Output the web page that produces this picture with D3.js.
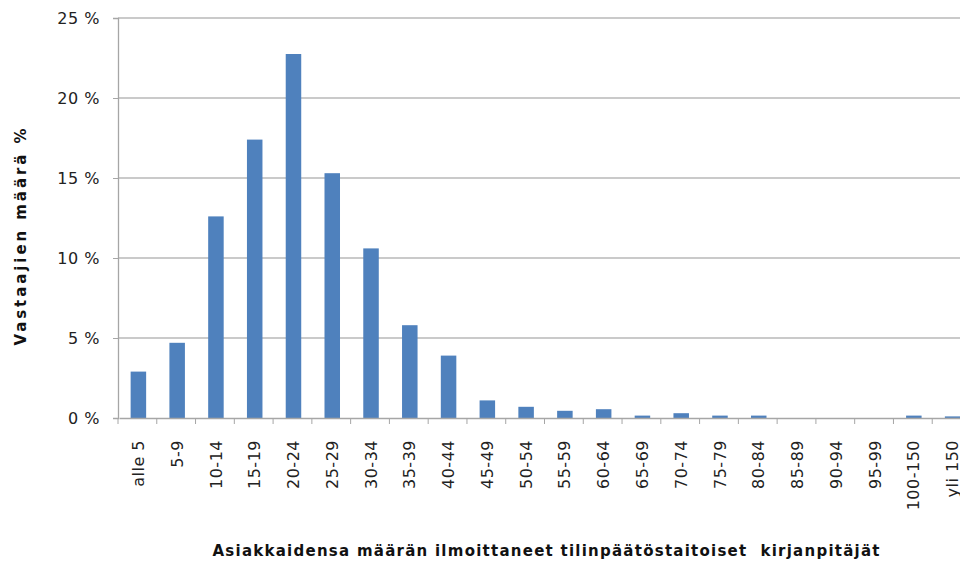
<!DOCTYPE html>
<html>
<head>
<meta charset="utf-8">
<script src="https://cdn.jsdelivr.net/npm/d3@7"></script>
<style>
  body { margin: 0; background: #fff; }
  svg { display: block; }
</style>
</head>
<body>
<div id="chart"></div>
<script>
// Data
const categories = ['alle 5', '5-9', '10-14', '15-19', '20-24', '25-29', '30-34', '35-39', '40-44',
    '45-49', '50-54', '55-59', '60-64', '65-69', '70-74', '75-79', '80-84', '85-89', '90-94',
    '95-99', '100-150', 'yli 150'];
const shares = [2.9, 4.7, 12.6, 17.4, 22.75, 15.3, 10.6, 5.8, 3.9,
    1.1, 0.7, 0.45, 0.55, 0.15, 0.3, 0.15, 0.15, 0, 0,
    0, 0.15, 0.1];
const yTicks = [0, 5, 10, 15, 20, 25];

const width = 960;
const height = 562;
const margin = { top: 18, right: -11, bottom: 144, left: 118 };

const svg = d3.select('#chart')
    .append('svg')
    .attr('width', width)
    .attr('height', height);

const x = d3.scaleBand()
    .domain(categories)
    .range([margin.left + 1, width - margin.right + 1])
    .paddingInner(0.6)
    .paddingOuter(0.3);

const y = d3.scaleLinear()
    .domain([0, 25])
    .range([height - margin.bottom, margin.top]);

// Gridlines
svg.append('g')
    .selectAll('line')
    .data(yTicks.filter(d => d > 0))
    .enter().append('line')
    .attr('x1', margin.left)
    .attr('x2', width - margin.right)
    .attr('y1', d => y(d))
    .attr('y2', d => y(d))
    .attr('stroke', '#b8b8b8')
    .attr('stroke-width', 1.3);

// Bars
svg.append('g')
    .selectAll('rect')
    .data(categories)
    .enter().append('rect')
    .attr('x', d => x(d))
    .attr('width', x.bandwidth())
    .attr('y', (d, i) => y(shares[i]))
    .attr('height', (d, i) => y(0) - y(shares[i]))
    .attr('fill', '#4f81bd');

// Y axis
const yAxis = svg.append('g')
    .attr('transform', `translate(${margin.left},0)`)
    .call(d3.axisLeft(y).tickValues(yTicks).tickSize(5).tickPadding(13).tickFormat(d => d + ' %'));

// X axis with ticks at category boundaries
const step = x.step();
const bounds = d3.range(categories.length + 1).map(i => margin.left + i * step);
const xAxis = svg.append('g')
    .attr('transform', `translate(0,${y(0)})`)
    .call(d3.axisBottom(x).tickSize(0).tickPadding(0));

xAxis.selectAll('.tick text')
    .attr('transform', 'rotate(-90)')
    .attr('x', -22)
    .attr('y', 0)
    .attr('dy', '0.35em')
    .style('text-anchor', 'end');

xAxis.append('g')
    .selectAll('line')
    .data(bounds)
    .enter().append('line')
    .attr('x1', d => d)
    .attr('x2', d => d)
    .attr('y1', 0)
    .attr('y2', 6)
    .attr('stroke', '#a6a6a6');

[yAxis, xAxis].forEach(g => {
    g.selectAll('.domain').attr('stroke', '#a6a6a6').attr('stroke-width', 1.3);
    g.selectAll('.tick line').attr('stroke', '#a6a6a6');
    g.selectAll('text')
        .style('font-family', '"DejaVu Sans", sans-serif')
        .style('font-size', '16px')
        .style('letter-spacing', '0.5px')
        .attr('fill', '#222');
});

// Axis titles
svg.append('text')
    .attr('x', 546)
    .attr('y', 556)
    .attr('textLength', 667)
    .attr('lengthAdjust', 'spacing')
    .attr('xml:space', 'preserve')
    .style('text-anchor', 'middle')
    .style('font-family', '"DejaVu Sans", sans-serif')
    .style('font-weight', 'bold')
    .style('font-size', '15px')
    .attr('fill', '#111')
    .text('Asiakkaidensa määrän ilmoittaneet tilinpäätöstaitoiset  kirjanpitäjät');

svg.append('text')
    .attr('transform', 'translate(26,237) rotate(-90)')
    .attr('textLength', 217)
    .attr('lengthAdjust', 'spacing')
    .style('text-anchor', 'middle')
    .style('font-family', '"DejaVu Sans", sans-serif')
    .style('font-weight', 'bold')
    .style('font-size', '15px')
    .attr('fill', '#111')
    .text('Vastaajien määrä %');
</script>
</body>
</html>
